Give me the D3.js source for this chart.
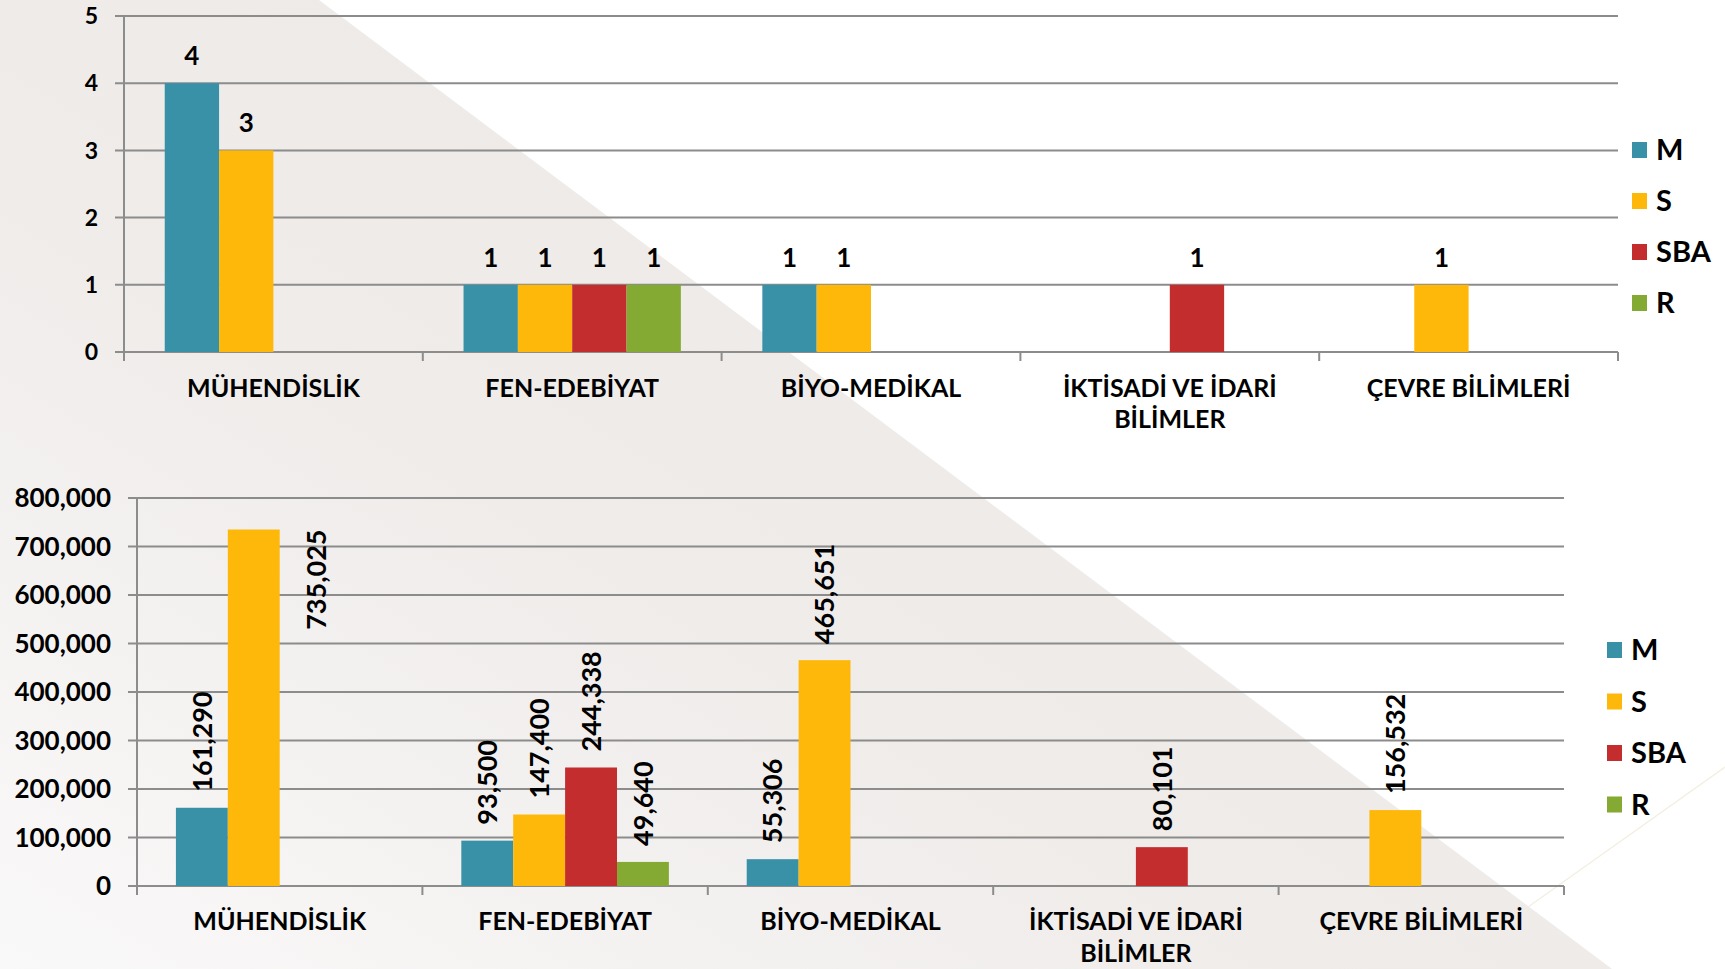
<!DOCTYPE html>
<meta charset="utf-8">
<head>
<script src="https://cdn.jsdelivr.net/npm/d3@7"></script>
<style>
  body { margin: 0; background: #fff; }
  svg text { font-family: "Lato", sans-serif; font-weight: bold; fill: #000; }
  .grid line { stroke: #8c8c8c; stroke-width: 2px; }
</style>
</head>
<body>
<div id="chart"></div>
<script>
// categories and series
var categories = ["MÜHENDİSLİK", "FEN-EDEBİYAT", "BİYO-MEDİKAL", "İKTİSADİ VE İDARİ BİLİMLER", "ÇEVRE BİLİMLERİ"];
var catLines = [["MÜHENDİSLİK"], ["FEN-EDEBİYAT"], ["BİYO-MEDİKAL"], ["İKTİSADİ VE İDARİ", "BİLİMLER"], ["ÇEVRE BİLİMLERİ"]];
var seriesNames = ["M", "S", "SBA", "R"];
var seriesColors = ["#3891A7", "#FEB80A", "#C32D2E", "#84AA33"];

// top chart: counts
var countM   = [4, 1, 1, null, null];
var countS   = [3, 1, 1, null, 1];
var countSBA = [null, 1, null, 1, null];
var countR   = [null, 1, null, null, null];
var countTicks = [0, 1, 2, 3, 4, 5];

// bottom chart: amounts
var amountM   = [161290, 93500, 55306, null, null];
var amountS   = [735025, 147400, 465651, null, 156532];
var amountSBA = [null, 244338, null, 80101, null];
var amountR   = [null, 49640, null, null, null];
var amountTicks = [0, 100000, 200000, 300000, 400000, 500000, 600000, 700000, 800000];

var W = 1725, H = 969;
var svg = d3.select("#chart").append("svg").attr("width", W).attr("height", H);

// background
var defs = svg.append("defs");
var grad = defs.append("linearGradient").attr("id", "bg").attr("x1", 1).attr("y1", 0).attr("x2", 0).attr("y2", 1);
grad.append("stop").attr("offset", 0).attr("stop-color", "#ebe8e6");
grad.append("stop").attr("offset", 0.6).attr("stop-color", "#efecea");
grad.append("stop").attr("offset", 1).attr("stop-color", "#faf9f9");
svg.append("rect").attr("width", W).attr("height", H).attr("fill", "#fff");
svg.append("polygon").attr("points", "0,0 319,0 1612,969 0,969").attr("fill", "url(#bg)");
svg.append("line").attr("x1", 1725).attr("y1", 767).attr("x2", 1528).attr("y2", 907)
  .attr("stroke", "#f3efe2").attr("stroke-width", 1.5);

function drawChart(cfg) {
  var g = svg.append("g");
  var x0 = d3.scaleBand().domain(categories).range([cfg.left, cfg.right]).padding(0);
  var step = x0.step();
  var gap = step * 0.75 / 5.5;
  var x1 = d3.scaleBand().domain(seriesNames).range([gap, step - gap]).padding(0);
  var y = d3.scaleLinear().domain(cfg.domain).range([cfg.bottom, cfg.top]);

  // gridlines
  g.append("g").attr("class", "grid")
    .selectAll("line").data(cfg.ticks).join("line")
    .attr("x1", cfg.left - 9).attr("x2", cfg.right)
    .attr("y1", d => y(d)).attr("y2", d => y(d));

  // axes lines
  var axG = g.append("g").attr("class", "grid");
  axG.append("line").attr("x1", cfg.left).attr("x2", cfg.left).attr("y1", cfg.top).attr("y2", cfg.bottom + 9);
  axG.selectAll(".ct").data(categories.slice(1).concat(["_end"])).join("line")
    .attr("x1", (d, i) => cfg.left + step * (i + 1)).attr("x2", (d, i) => cfg.left + step * (i + 1))
    .attr("y1", cfg.bottom).attr("y2", cfg.bottom + 9);

  // y tick labels
  g.append("g").selectAll("text").data(cfg.ticks).join("text")
    .attr("x", cfg.left - 26).attr("y", d => y(d)).attr("dy", "0.36em")
    .attr("text-anchor", "end").style("font-size", cfg.tickSize + "px")
    .text(d => cfg.fmt(d));

  // category labels
  var cl = g.append("g").selectAll("text").data(catLines).join("text")
    .attr("text-anchor", "middle").style("font-size", cfg.catSize + "px")
    .attr("transform", (d, i) => "translate(" + (x0(categories[i]) + step / 2) + "," + (cfg.bottom + cfg.catOffset) + ")");
  cl.selectAll("tspan").data(d => d).join("tspan")
    .attr("x", 0).attr("y", (d, i) => i * cfg.lineH).text(d => d);

  // bars
  var rows = [];
  cfg.values.forEach((vals, si) => {
    vals.forEach((v, ci) => {
      if (v != null) rows.push({ s: seriesNames[si], si: si, c: categories[ci], v: v });
    });
  });
  g.append("g").selectAll("rect").data(rows).join("rect")
    .attr("x", d => x0(d.c) + x1(d.s))
    .attr("width", x1.bandwidth())
    .attr("y", d => y(d.v))
    .attr("height", d => cfg.bottom - y(d.v))
    .attr("fill", d => seriesColors[d.si]);

  // value labels
  var lab = g.append("g").selectAll("text").data(rows).join("text")
    .style("font-size", cfg.labelSize + "px")
    .text(d => cfg.fmt(d.v));
  if (!cfg.rotate) {
    lab.attr("text-anchor", "middle")
      .attr("x", d => x0(d.c) + x1(d.s) + x1.bandwidth() / 2)
      .attr("y", d => y(d.v) - 18);
  } else {
    lab.each(function (d) {
      var t = d3.select(this);
      var len = this.getComputedTextLength();
      var cx = x0(d.c) + x1(d.s) + x1.bandwidth() / 2;
      var yy = y(d.v) - 16;
      if (yy - len < cfg.top) {
        // no room above: put it beside the bar
        t.attr("text-anchor", "end")
          .attr("transform", "translate(" + (cx + x1.bandwidth() * 1.2) + "," + y(d.v) + ") rotate(-90)");
      } else {
        t.attr("text-anchor", "start")
          .attr("transform", "translate(" + cx + "," + yy + ") rotate(-90)");
      }
      t.attr("dy", "0.36em");
    });
  }

  // legend
  var lg = g.append("g").selectAll("g").data(seriesNames).join("g")
    .attr("transform", (d, i) => "translate(" + cfg.legX + "," + (cfg.legY + i * cfg.legStep) + ")");
  lg.append("rect").attr("x", 0).attr("y", -8).attr("width", 15).attr("height", 16)
    .attr("fill", (d, i) => seriesColors[i]);
  lg.append("text").attr("x", 24).attr("y", 0).attr("dy", "0.36em")
    .style("font-size", "29px").text(d => d);
}

drawChart({
  left: 124, right: 1618, top: 16, bottom: 352,
  domain: [0, 5], ticks: countTicks, fmt: d3.format(","),
  tickSize: 23, catSize: 25, catOffset: 45, lineH: 31, labelSize: 26,
  values: [countM, countS, countSBA, countR], rotate: false,
  legX: 1632, legY: 150, legStep: 51
});

drawChart({
  left: 137, right: 1564, top: 498, bottom: 886,
  domain: [0, 800000], ticks: amountTicks, fmt: d3.format(","),
  tickSize: 26, catSize: 25, catOffset: 44, lineH: 32, labelSize: 27,
  values: [amountM, amountS, amountSBA, amountR], rotate: true,
  legX: 1607, legY: 650, legStep: 51.5
});
</script>
</body>
</html>
